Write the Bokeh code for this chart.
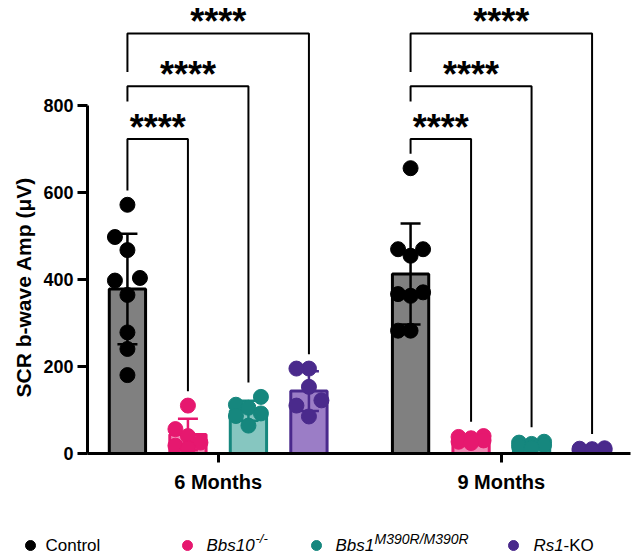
import numpy as np
from bokeh.plotting import figure
from bokeh.layouts import column
from bokeh.models import ColumnDataSource, FixedTicker, Title
from bokeh.core.properties import value
from bokeh.embed import file_html
from bokeh.resources import INLINE

# ---------------- data ----------------
months = ["6 Months", "9 Months"]
genotypes = ["Control", "Bbs10", "Bbs1", "Rs1"]

control_6m = [571, 497, 467, 403, 397, 364, 278, 240, 180]
bbs10_6m = [110, 56, 40, 25, 18, 12]
bbs1_6m = [130, 112, 105, 92, 86, 64]
rs1_6m = [195, 195, 153, 122, 110, 85]

control_9m = [655, 469, 469, 454, 370, 366, 362, 282, 282]
bbs10_9m = [40, 38, 35, 30, 27, 24]
bbs1_9m = [27, 25, 22, 19, 16, 13]
rs1_9m = [12, 11, 10, 8, 7, 6]

# significance of each genotype vs. Control (Bbs10, Bbs1, Rs1)
stars_6m = ["****", "****", "****"]
stars_9m = ["****", "****", "****"]

y_ticks = [0, 200, 400, 600, 800]

series = {
    "6 Months": [control_6m, bbs10_6m, bbs1_6m, rs1_6m],
    "9 Months": [control_9m, bbs10_9m, bbs1_9m, rs1_9m],
}
stars = {"6 Months": stars_6m, "9 Months": stars_9m}

# ---------------- style ----------------
FONT = "Liberation Sans"
point_color = {"Control": "#000000", "Bbs10": "#E6186F", "Bbs1": "#16877E", "Rs1": "#4A2A8C"}
bar_fill = {"Control": "#808080", "Bbs10": "#F28BB6", "Bbs1": "#86C6C0", "Rs1": "#9B7DC6"}
bar_line = {"Control": "#000000", "Bbs10": "#E6186F", "Bbs1": "#16877E", "Rs1": "#4A2A8C"}

# ---------------- layout ----------------
W = 637
H_MAIN, H_LEG = 510, 46
B_LEFT, B_RIGHT, B_TOP, B_BOTTOM = 87, 7, 0, 57
FRAME_W = W - B_LEFT - B_RIGHT
FRAME_H = H_MAIN - B_TOP - B_BOTTOM
PX_PER_SLOT = 60.5          # horizontal pixels between neighbouring bars
X_START = -0.66
X_END = X_START + FRAME_W / PX_PER_SLOT
GROUP_GAP = 4.68            # distance between the first bars of the two groups
Y_END = 1040
PX_PER_UNIT = FRAME_H / Y_END

BAR_W = 0.6
CAP_HALF = 10 / PX_PER_SLOT
DOT = 15                    # marker diameter (px)
SPREAD = 12.5               # side offset of scattered points (px)
MIN_GAP = 15                # minimum centre distance before points are pushed aside (px)

BRACKET_BASE = 67           # first bracket above the tallest point
BRACKET_STEP = 121
LEG_GAP = 33                # space between a bracket leg and the points below it
LEFT_DROP = [None, 35, 88]  # left leg length of the 2nd and 3rd bracket


def swarm(vals, x0):
    """Spread points sideways so that they do not pile up on each other."""
    order = np.argsort(vals, kind="stable")
    placed = []
    xs = [0.0] * len(vals)
    for idx in order:
        py = vals[idx] * PX_PER_UNIT
        best, best_d = 0.0, -1.0
        for c in (0.0, -SPREAD, SPREAD):
            d = min((np.hypot(c - qx, py - qy) for qx, qy in placed), default=1e9)
            if d >= MIN_GAP:
                best = c
                break
            if d > best_d:
                best, best_d = c, d
        placed.append((best, py))
        xs[idx] = x0 + best / PX_PER_SLOT
    return xs


p = figure(width=W, height=H_MAIN, x_range=(X_START, X_END), y_range=(0, Y_END),
           output_backend="svg", toolbar_location=None,
           min_border_left=B_LEFT, min_border_right=B_RIGHT,
           min_border_top=B_TOP, min_border_bottom=B_BOTTOM)
p.outline_line_color = None
p.xgrid.visible = False
p.ygrid.visible = False
p.background_fill_color = "white"
p.border_fill_color = "white"

bar = dict(x=[], top=[], fill=[], line=[])
err = dict(x=[], lo=[], hi=[], color=[])
pts = dict(x=[], y=[], color=[])
br_xs, br_ys = [], []
st = dict(x=[], y=[], text=[])
centers = []

global_max = max(max(v) for grp in series.values() for v in grp)
levels = [global_max + BRACKET_BASE + k * BRACKET_STEP for k in range(3)]

for g, month in enumerate(months):
    xs_g = [g * GROUP_GAP + i for i in range(len(genotypes))]
    centers.append(float(np.mean(xs_g)))
    for i, gt in enumerate(genotypes):
        vals = series[month][i]
        m = float(np.mean(vals))
        sd = float(np.std(vals, ddof=1))
        bar["x"].append(xs_g[i]); bar["top"].append(m)
        bar["fill"].append(bar_fill[gt]); bar["line"].append(bar_line[gt])
        err["x"].append(xs_g[i]); err["lo"].append(m - sd); err["hi"].append(m + sd)
        err["color"].append(point_color[gt])
        px = swarm(vals, xs_g[i])
        pts["x"].extend(px); pts["y"].extend(vals)
        pts["color"].extend([point_color[gt]] * len(vals))

    ctrl_top = max(series[month][0]) + LEG_GAP
    for k in range(3):
        xl, xr = xs_g[0], xs_g[k + 1]
        top = levels[k]
        left_bottom = ctrl_top if k == 0 else top - LEFT_DROP[k]
        right_bottom = max(series[month][k + 1]) + LEG_GAP
        br_xs.append([xl, xl, xr, xr])
        br_ys.append([left_bottom, top, top, right_bottom])
        st["x"].append((xl + xr) / 2); st["y"].append(top); st["text"].append(stars[month][k])

# bars
p.vbar(x="x", top="top", bottom=0, width=BAR_W, fill_color="fill", line_color="line",
       line_width=3, source=ColumnDataSource(bar))

# error bars (mean ± SD)
es = ColumnDataSource(dict(
    x=err["x"], lo=err["lo"], hi=err["hi"], color=err["color"],
    cl=[x - CAP_HALF for x in err["x"]], cr=[x + CAP_HALF for x in err["x"]]))
p.segment(x0="x", y0="lo", x1="x", y1="hi", line_color="color", line_width=2.5, source=es)
p.segment(x0="cl", y0="hi", x1="cr", y1="hi", line_color="color", line_width=2.5, source=es)
p.segment(x0="cl", y0="lo", x1="cr", y1="lo", line_color="color", line_width=2.5, source=es)

# individual animals
p.scatter(x="x", y="y", size=DOT, fill_color="color", line_color="color",
          source=ColumnDataSource(pts))

# significance brackets
p.multi_line(xs=br_xs, ys=br_ys, line_color="black", line_width=2)
p.text(x="x", y="y", text="text", source=ColumnDataSource(st),
       text_font=value(FONT), text_font_style="bold", text_font_size="36px",
       text_align="center", text_baseline="alphabetic", y_offset=-12,
       text_color="black")

# axes
ya = p.yaxis[0]
ya.ticker = FixedTicker(ticks=y_ticks)
ya.bounds = (0, 800)
ya.axis_line_width = 3
ya.major_tick_line_width = 3
ya.major_tick_out = 10
ya.major_tick_in = 0
ya.minor_tick_out = 0
ya.minor_tick_in = 0
ya.major_label_standoff = 4
ya.major_label_text_font = FONT
ya.major_label_text_font_style = "bold"
ya.major_label_text_font_size = "18px"
ya.major_label_text_color = "black"

xa = p.xaxis[0]
xa.ticker = FixedTicker(ticks=centers)
xa.major_label_overrides = {c: m for c, m in zip(centers, months)}
xa.axis_line_width = 3
xa.major_tick_line_width = 3
xa.major_tick_out = 9
xa.major_tick_in = 0
xa.minor_tick_out = 0
xa.minor_tick_in = 0
xa.major_label_standoff = 8
xa.major_label_text_font = FONT
xa.major_label_text_font_style = "bold"
xa.major_label_text_font_size = "20px"
xa.major_label_text_color = "black"

# y axis title, starting level with the lower part of the axis
p.add_layout(Title(text="SCR b-wave Amp (μV)", align="left", offset=56,
                   text_font=FONT, text_font_style="bold", text_font_size="21px",
                   text_color="black", standoff=12), "left")

# ---------------- legend row ----------------
leg = figure(width=W, height=H_LEG, x_range=(0, W), y_range=(0, H_LEG),
             output_backend="svg", toolbar_location=None,
             x_axis_type=None, y_axis_type=None,
             min_border_left=0, min_border_right=0, min_border_top=0, min_border_bottom=0)
leg.outline_line_color = None
leg.xgrid.visible = False
leg.ygrid.visible = False
# the legend strip spans the full width instead of lining up with the chart frame
if "frame_align" in leg.properties():
    leg.frame_align = False
    p.frame_align = False

legend_names = ["Control", "Bbs10", "Bbs1", "Rs1"]
legend_dot_x = [30, 187, 316, 513]
LEG_Y = 11

leg.scatter(x=legend_dot_x, y=[LEG_Y] * 4, size=10,
            fill_color=[point_color[n] for n in legend_names],
            line_color=[point_color[n] for n in legend_names])

# (x, text, style, size, raise)
legend_texts = [
    (45, "Control", "normal", "17px", 0),
    (206, "Bbs10", "italic", "17px", 0),
    (255, "-/-", "italic", "13px", 7),
    (335, "Bbs1", "italic", "17px", 0),
    (374, "M390R/M390R", "italic", "14px", 7),
    (533, "Rs1", "italic", "17px", 0),
    (563, "-KO", "normal", "17px", 0),
]
for tx, t, style, size, dy in legend_texts:
    leg.text(x=[tx], y=[LEG_Y + dy], text=[t], text_font=value(FONT),
             text_font_style=style, text_font_size=size, text_align="left",
             text_baseline="middle", text_color="black")

open("out.html", "w").write(file_html(column(p, leg, spacing=0), INLINE))
